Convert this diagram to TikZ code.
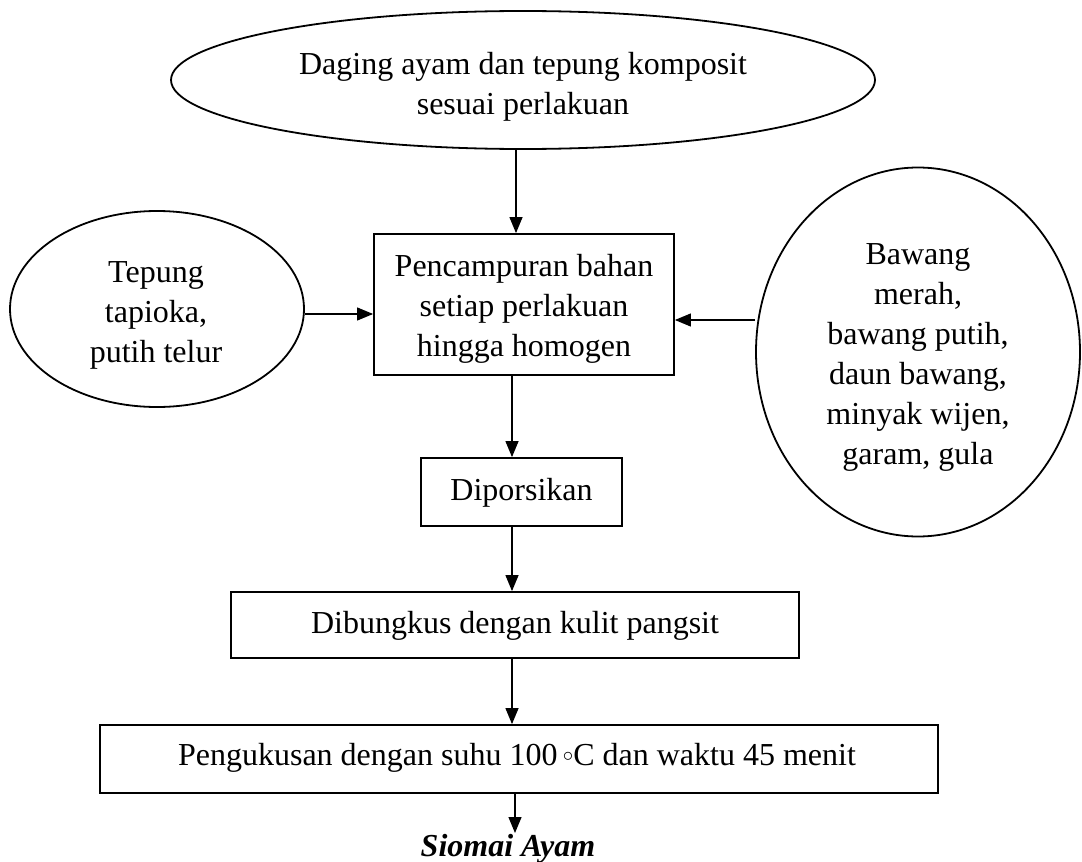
\documentclass[tikz,border=0pt]{standalone}
\usepackage{fontspec}
\setmainfont{Liberation Serif}
\usetikzlibrary{shapes.geometric,arrows.meta}
\begin{document}
\begin{tikzpicture}[x=1pt,y=1pt,
  txt/.style={font=\fontsize{32}{40}\selectfont, align=center, inner sep=0pt},
  oval/.style={draw, ellipse, line width=1.8pt, inner sep=0pt},
  procbox/.style={draw, rectangle, line width=1.8pt, inner sep=0pt},
  arr/.style={line width=1.2pt, -{Triangle[length=16pt,width=13pt]}}]
\useasboundingbox (0,0) rectangle (1082,-862);
% shapes
\node[oval, minimum width=704, minimum height=138] (top) at (523,-80) {};
\node[procbox, minimum width=300, minimum height=141] (mix) at (524,-304.5) {};
\node[oval, minimum width=294, minimum height=196] (left) at (157,-309) {};
\node[oval, minimum width=324, minimum height=369] (right) at (918,-352) {};
\node[procbox, minimum width=201, minimum height=68] (dipor) at (521.5,-492) {};
\node[procbox, minimum width=568, minimum height=66] (bung) at (515,-625) {};
\node[procbox, minimum width=838, minimum height=68] (kukus) at (519,-759) {};
% texts
\node[txt] (topT) at (523,-87) {Daging ayam dan tepung komposit\\sesuai perlakuan};
\node[txt] (mixT) at (524,-309) {Pencampuran bahan\\setiap perlakuan\\hingga homogen};
\node[txt] (leftT) at (156,-315) {Tepung\\tapioka,\\putih telur};
\node[txt] (rightT) at (918,-357) {Bawang\\merah,\\bawang putih,\\daun bawang,\\minyak wijen,\\garam, gula};
\node[txt] (diporT) at (521.5,-493) {Diporsikan};
\node[txt] (bungT) at (515,-626) {Dibungkus dengan kulit pangsit};
\node[txt] (kukusT) at (517,-758)
  {Pengukusan dengan suhu 100\,{\fontsize{21}{21}\selectfont\raisebox{4pt}{$\circ$}}C dan waktu 45 menit};
\node[txt, font=\fontsize{32}{40}\selectfont\bfseries\itshape] (siomai) at (508,-849) {Siomai Ayam};
\coordinate (sEnd) at (515,-833);
% connectors
\draw[arr] ([xshift=-7pt]top.south) -- ([xshift=-8pt]mix.north);
\draw[arr] ([yshift=-5pt]left.east) -- ([yshift=-9.5pt]mix.west);
\draw[arr] ([yshift=32pt]right.west) -- ([yshift=-15.5pt]mix.east);
\draw[arr] ([xshift=-12pt]mix.south) -- ([xshift=-9.5pt]dipor.north);
\draw[arr] ([xshift=-9.5pt]dipor.south) -- ([xshift=-3pt]bung.north);
\draw[arr] ([xshift=-3pt]bung.south) -- ([xshift=-7pt]kukus.north);
\draw[arr] ([xshift=-4pt]kukus.south) -- (sEnd);
\end{tikzpicture}
\end{document}
